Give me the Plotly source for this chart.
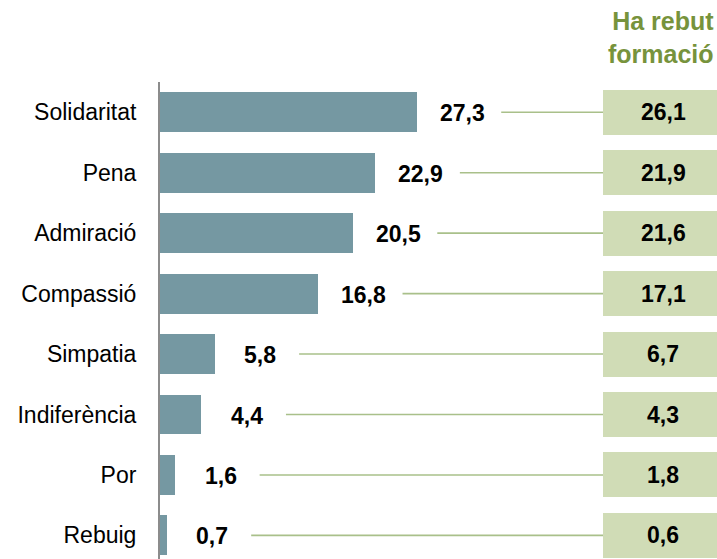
import plotly.graph_objects as go

categories = ["Solidaritat", "Pena", "Admiració", "Compassió", "Simpatia",
              "Indiferència", "Por", "Rebuig"]
values_all = [27.3, 22.9, 20.5, 16.8, 5.8, 4.4, 1.6, 0.7]
values_trained = [26.1, 21.9, 21.6, 17.1, 6.7, 4.3, 1.8, 0.6]
column_title = "Ha rebut<br>formació"

def fmt(v):
    return f"{v:.1f}".replace(".", ",")

W, H = 717, 559
ML, MT = 160, 82
PX_PER_UNIT = 9.4
BOX_LEFT = 443 / 557
XMAX = (W - ML) * BOX_LEFT / PX_PER_UNIT

BAR_COLOR = "#7598A2"
BOX_COLOR = "#D0DCB6"
LINE_COLOR = "#A9C08A"
TITLE_COLOR = "#77933C"
FONT = "Liberation Sans, Arial, sans-serif"

fig = go.Figure()

fig.add_trace(go.Bar(
    y=categories, x=values_all, orientation="h",
    marker=dict(color=BAR_COLOR, line=dict(width=0)),
    width=0.66, xaxis="x", yaxis="y", hoverinfo="skip",
))

# connector lines
for cat, v in zip(categories, values_all):
    fig.add_trace(go.Scatter(
        x=[v + 9.0, XMAX], y=[cat, cat], mode="lines",
        line=dict(color=LINE_COLOR, width=1.6),
        xaxis="x", yaxis="y", hoverinfo="skip", cliponaxis=False,
    ))

# trained column boxes
fig.add_trace(go.Bar(
    y=categories, x=[1] * len(categories), orientation="h",
    marker=dict(color=BOX_COLOR, line=dict(width=0)),
    width=0.745, xaxis="x2", yaxis="y",
    hoverinfo="skip",
))

annotations = []
for cat, v in zip(categories, values_all):
    annotations.append(dict(
        x=v, y=cat, xref="x", yref="y", text=fmt(v), showarrow=False,
        xanchor="center", yanchor="middle", xshift=45.5, yshift=-1,
        font=dict(family=FONT, size=23, color="#000000", weight="bold"),
    ))
for cat, v in zip(categories, values_trained):
    annotations.append(dict(
        x=0.5, y=cat, xref="x2", yref="y", text=fmt(v), showarrow=False,
        xanchor="center", yanchor="middle", xshift=3, yshift=0,
        font=dict(family=FONT, size=23, color="#000000", weight="bold"),
    ))
annotations.append(dict(
    x=1, y=1, xref="paper", yref="paper", text=column_title, showarrow=False,
    xanchor="right", yanchor="top", align="right", xshift=-1, yshift=77,
    font=dict(family=FONT, size=25, color=TITLE_COLOR, weight="bold"),
))

fig.update_layout(
    width=W, height=H,
    margin=dict(l=ML, r=0, t=MT, b=0, pad=0),
    plot_bgcolor="white", paper_bgcolor="white",
    showlegend=False, bargap=0,
    barmode="overlay",
    xaxis=dict(domain=[0, BOX_LEFT], range=[0, XMAX], visible=False,
               fixedrange=True),
    xaxis2=dict(domain=[BOX_LEFT, 1], range=[0, 1], visible=False,
                anchor="y", fixedrange=True),
    yaxis=dict(type="category", categoryorder="array", categoryarray=categories,
               range=[7.39, -0.5], showline=True, linecolor="#8C8C8C",
               linewidth=2, showgrid=False, zeroline=False, ticks="",
               ticklabelstandoff=17,
               tickfont=dict(family=FONT, size=23, color="#000000"),
               fixedrange=True),
    annotations=annotations,
)

fig.write_html(
    "out.html",
    config={"displayModeBar": False},
    post_script="document.body.style.margin='0';document.body.style.overflow='hidden';",
)
